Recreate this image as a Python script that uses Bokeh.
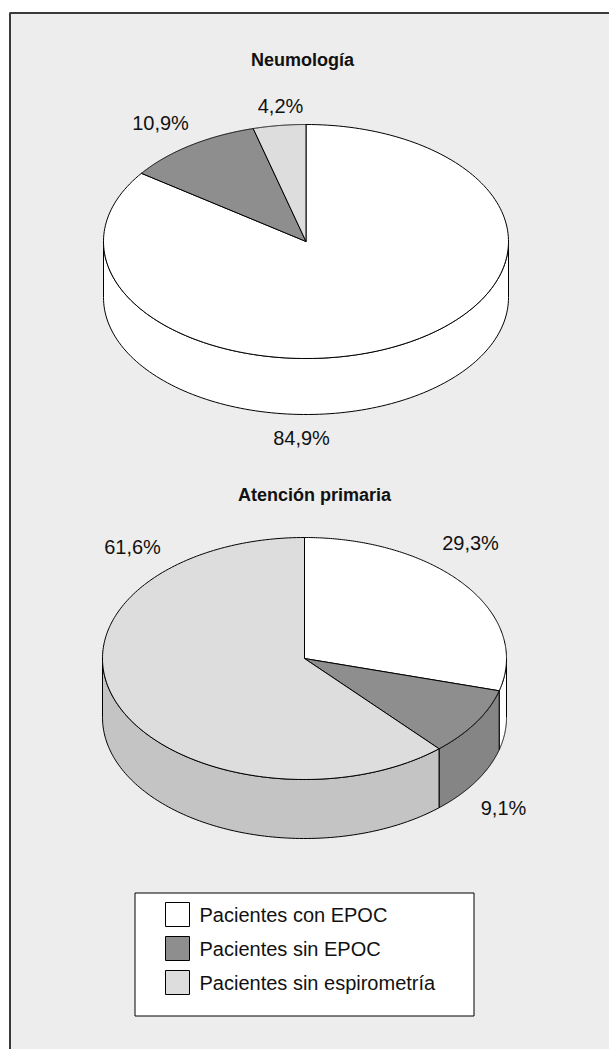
import numpy as np
from bokeh.plotting import figure
from bokeh.models import Range1d, ColumnDataSource
from bokeh.core.properties import value
from bokeh.embed import file_html
from bokeh.resources import INLINE

# ---- data ----
categories = ["Pacientes con EPOC", "Pacientes sin EPOC", "Pacientes sin espirometría"]
neumologia = [84.9, 10.9, 4.2]
atencion_primaria = [29.3, 9.1, 61.6]
titles = ["Neumología", "Atención primaria"]

# ---- styles / layout ----
top_colors = ["#FFFFFF", "#8E8E8E", "#DDDDDD"]
side_colors = ["#FFFFFF", "#858585", "#C4C4C4"]
FONT = value("Liberation Sans")

pies = [
    dict(vals=neumologia, cx=305.5, cy=241.0, a=202.5, b=117.0, depth=56.0,
         title_pos=(302, 59),
         label_pos=[(301, 437), (160, 122), (280, 105)]),
    dict(vals=atencion_primaria, cx=304.0, cy=658.0, a=202.0, b=121.0, depth=59.0,
         title_pos=(314, 494),
         label_pos=[(470, 542), (503, 807), (132, 546)]),
]

W, H = 609, 1049
p = figure(width=W, height=H, x_range=Range1d(0, W), y_range=Range1d(H, 0),
           output_backend="svg", toolbar_location=None, min_border=0,
           x_axis_type=None, y_axis_type=None, outline_line_color=None,
           background_fill_color="white", border_fill_color="white")
p.grid.visible = False

# frame
p.quad(left=[9.5], right=[640], top=[12.5], bottom=[1090],
       fill_color="#EDEDED", line_color="#3A3A3A", line_width=2)


def pt(c, th, dy=0.0):
    r = np.radians(th)
    return c["cx"] + c["a"] * np.cos(r), c["cy"] - c["b"] * np.sin(r) + dy


def fmt(v):
    return f"{v:.1f}".replace(".", ",") + "%"


for c in pies:
    vals = c["vals"]
    tot = float(sum(vals))
    starts, ends = [], []
    s = 90.0
    for v in vals:
        e = s - 360.0 * v / tot
        starts.append(s)
        ends.append(e)
        s = e

    # side walls (front half: angles in [-180, 0] mod 360)
    sx, sy, sc = [], [], []
    for i in range(len(vals)):
        lo, hi = ends[i], starts[i]
        for k in (-2, -1, 0, 1):
            flo, fhi = -180 + 360 * k, 0 + 360 * k
            ilo, ihi = max(lo, flo), min(hi, fhi)
            if ihi - ilo > 1e-6:
                th = np.linspace(ilo, ihi, 120)
                tx, ty = pt(c, th)
                bx, by = pt(c, th[::-1], c["depth"])
                sx.append(list(np.concatenate([tx, bx])))
                sy.append(list(np.concatenate([ty, by])))
                sc.append(side_colors[i])
    p.patches(xs="xs", ys="ys", fill_color="c", line_color="black", line_width=1,
              source=ColumnDataSource(dict(xs=sx, ys=sy, c=sc)))

    # top slices
    tx_all, ty_all, tc = [], [], []
    for i in range(len(vals)):
        th = np.linspace(starts[i], ends[i], 200)
        ax, ay = pt(c, th)
        tx_all.append([c["cx"]] + list(ax))
        ty_all.append([c["cy"]] + list(ay))
        tc.append(top_colors[i])
    p.patches(xs="xs", ys="ys", fill_color="c", line_color="black", line_width=1,
              line_join="round",
              source=ColumnDataSource(dict(xs=tx_all, ys=ty_all, c=tc)))

    # labels
    p.text(x=[q[0] for q in c["label_pos"]], y=[q[1] for q in c["label_pos"]],
           text=[fmt(v) for v in vals], text_align="center", text_baseline="middle",
           text_font=FONT, text_font_size="20px", text_color="#111111")

# titles
p.text(x=[pies[0]["title_pos"][0], pies[1]["title_pos"][0]],
       y=[pies[0]["title_pos"][1], pies[1]["title_pos"][1]],
       text=titles, text_align="center", text_baseline="middle",
       text_font=FONT, text_font_size="18px", text_font_style="bold",
       text_color="#111111")

# legend
p.quad(left=[134.5], right=[473.5], top=[892.5], bottom=[1015.5],
       fill_color="white", line_color="black", line_width=1)
leg_y = [914, 948, 982]
p.rect(x=[177] * 3, y=leg_y, width=24, height=24, fill_color=top_colors,
       line_color="black", line_width=1)
p.text(x=[199] * 3, y=[y + 0 for y in leg_y], text=categories, text_align="left",
       text_baseline="middle", text_font=FONT, text_font_size="20px",
       text_color="#111111")

open("out.html", "w").write(file_html(p, INLINE))
